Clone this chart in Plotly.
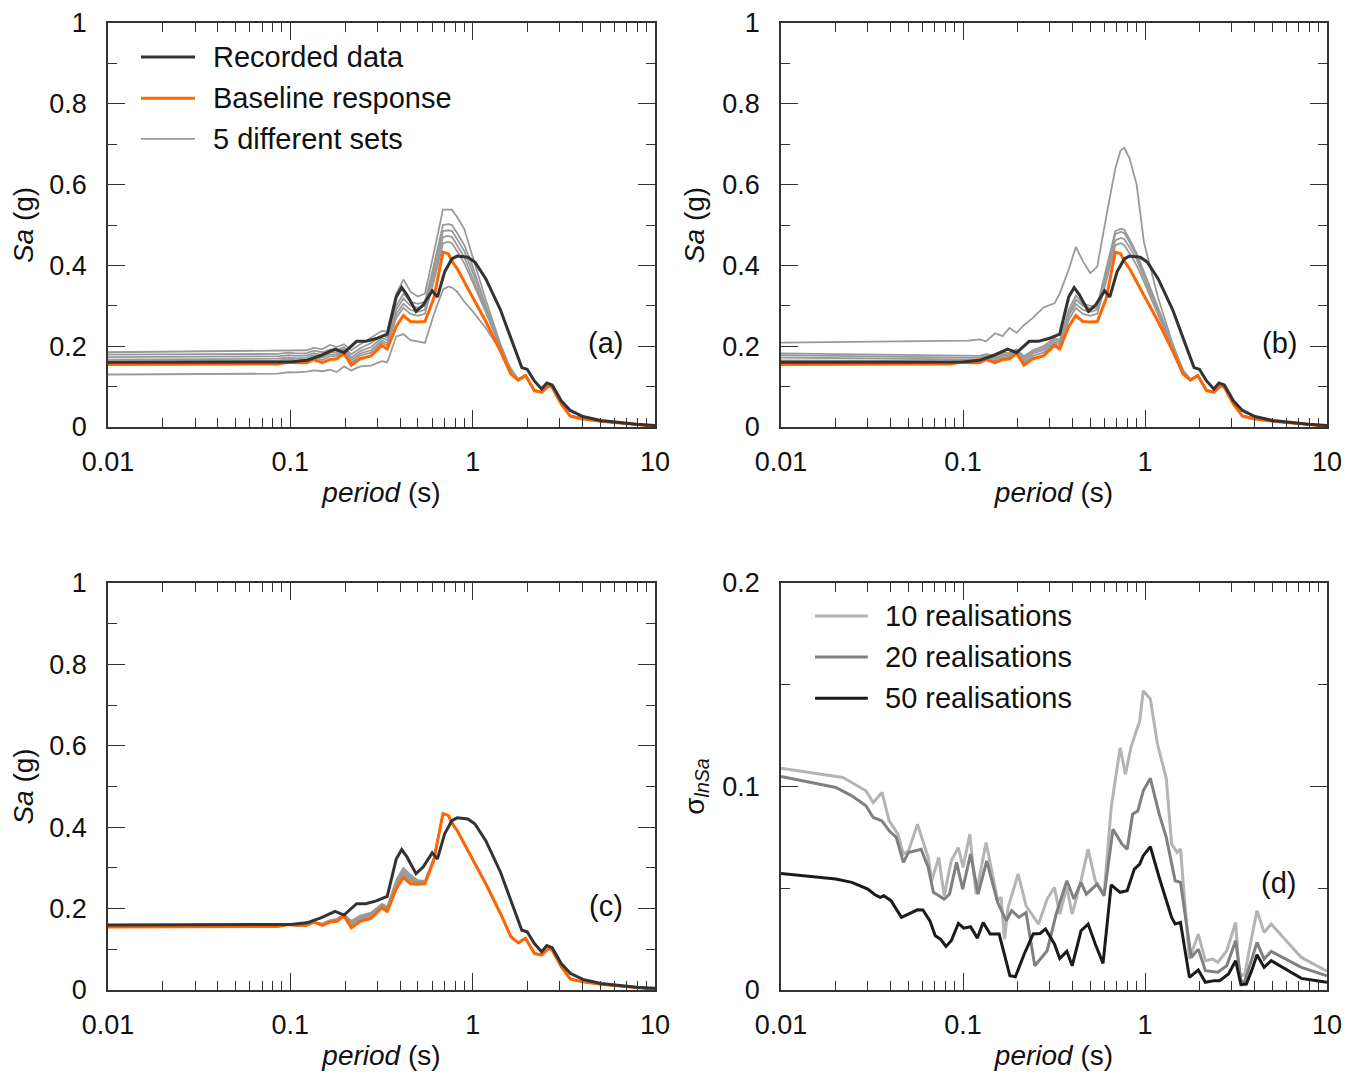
import plotly.graph_objects as go

# ---------------- data ----------------
# Recorded data (same in panels a, b, c)
rec_period = [0.01, 0.05, 0.1, 0.123, 0.147, 0.176, 0.197, 0.231, 0.259, 0.296,
              0.340, 0.381, 0.408, 0.436, 0.489, 0.535, 0.600, 0.641, 0.702, 0.769,
              0.822, 0.942, 1.03, 1.18, 1.42, 1.62, 1.86, 1.99, 2.18, 2.39,
              2.55, 2.73, 3.06, 3.43, 4.02, 5.04, 6.33, 7.94, 10]
rec_sa = [0.160, 0.160, 0.161, 0.165, 0.177, 0.193, 0.184, 0.212, 0.212, 0.219,
          0.230, 0.322, 0.345, 0.327, 0.286, 0.302, 0.337, 0.322, 0.384, 0.416,
          0.423, 0.420, 0.408, 0.367, 0.290, 0.220, 0.147, 0.143, 0.114, 0.094,
          0.109, 0.104, 0.065, 0.041, 0.026, 0.016, 0.011, 0.007, 0.004]

# period grid of the simulated spectra
sim_period = [0.01, 0.085, 0.098, 0.107, 0.123, 0.134, 0.150, 0.165, 0.180, 0.197,
              0.216, 0.242, 0.277, 0.318, 0.340, 0.381, 0.417, 0.456, 0.50, 0.547,
              0.612, 0.687, 0.735, 0.77, 0.822, 0.90, 0.986, 1.18, 1.42, 1.62,
              1.78, 1.95, 2.18, 2.39, 2.61, 2.73, 3.06, 3.43, 4.02, 5.04,
              7.94, 10]
baseline_sa = [0.155, 0.156, 0.161, 0.159, 0.159, 0.167, 0.159, 0.167, 0.169, 0.182,
               0.153, 0.169, 0.176, 0.202, 0.193, 0.249, 0.276, 0.261, 0.260, 0.261,
               0.318, 0.433, 0.429, 0.410, 0.392, 0.360, 0.327, 0.261, 0.188, 0.131,
               0.116, 0.127, 0.090, 0.086, 0.102, 0.098, 0.057, 0.027, 0.020, 0.014,
               0.006, 0.002]

# panel (a): different sets
sets_a = [
    [0.185, 0.188, 0.190, 0.189, 0.190, 0.196, 0.193, 0.203, 0.198, 0.205,
     0.190, 0.205, 0.222, 0.238, 0.236, 0.330, 0.365, 0.335, 0.323, 0.330,
     0.430, 0.538, 0.538, 0.538, 0.520, 0.490, 0.430, 0.315, 0.205, 0.140,
     0.118, 0.129, 0.091, 0.087, 0.103, 0.099, 0.058, 0.028, 0.021, 0.014,
     0.006, 0.002],
    [0.179, 0.181, 0.184, 0.182, 0.183, 0.189, 0.185, 0.192, 0.190, 0.198,
     0.180, 0.195, 0.208, 0.226, 0.222, 0.300, 0.330, 0.310, 0.305, 0.310,
     0.400, 0.500, 0.502, 0.500, 0.480, 0.450, 0.405, 0.300, 0.203, 0.139,
     0.118, 0.129, 0.091, 0.087, 0.103, 0.099, 0.058, 0.028, 0.021, 0.014,
     0.006, 0.002],
    [0.173, 0.175, 0.178, 0.176, 0.177, 0.183, 0.178, 0.186, 0.185, 0.194,
     0.172, 0.188, 0.198, 0.220, 0.215, 0.290, 0.318, 0.300, 0.295, 0.300,
     0.390, 0.485, 0.487, 0.485, 0.465, 0.435, 0.390, 0.295, 0.200, 0.138,
     0.118, 0.128, 0.091, 0.087, 0.103, 0.099, 0.058, 0.028, 0.021, 0.014,
     0.006, 0.002],
    [0.167, 0.169, 0.172, 0.170, 0.171, 0.178, 0.172, 0.180, 0.180, 0.190,
     0.166, 0.182, 0.190, 0.214, 0.208, 0.280, 0.305, 0.290, 0.285, 0.290,
     0.375, 0.470, 0.473, 0.470, 0.450, 0.420, 0.375, 0.290, 0.198, 0.137,
     0.117, 0.128, 0.091, 0.087, 0.103, 0.099, 0.058, 0.028, 0.021, 0.014,
     0.006, 0.002],
    [0.162, 0.164, 0.167, 0.165, 0.166, 0.173, 0.166, 0.175, 0.176, 0.187,
     0.160, 0.177, 0.184, 0.209, 0.202, 0.270, 0.295, 0.280, 0.275, 0.280,
     0.360, 0.455, 0.458, 0.455, 0.435, 0.405, 0.365, 0.285, 0.195, 0.135,
     0.117, 0.128, 0.091, 0.087, 0.103, 0.099, 0.058, 0.028, 0.021, 0.014,
     0.006, 0.002],
    [0.130, 0.132, 0.136, 0.135, 0.137, 0.140, 0.138, 0.142, 0.136, 0.150,
     0.140, 0.150, 0.152, 0.163, 0.160, 0.224, 0.230, 0.215, 0.212, 0.208,
     0.278, 0.340, 0.348, 0.345, 0.335, 0.310, 0.290, 0.245, 0.190, 0.145,
     0.118, 0.128, 0.091, 0.087, 0.103, 0.099, 0.058, 0.028, 0.021, 0.014,
     0.006, 0.002],
]

# panel (b): different sets
sets_b = [
    [0.209, 0.212, 0.213, 0.214, 0.217, 0.212, 0.232, 0.225, 0.245, 0.233,
     0.252, 0.270, 0.296, 0.306, 0.330, 0.390, 0.446, 0.410, 0.381, 0.397,
     0.520, 0.640, 0.685, 0.691, 0.665, 0.600, 0.458, 0.320, 0.205, 0.140,
     0.118, 0.129, 0.091, 0.087, 0.103, 0.099, 0.058, 0.028, 0.021, 0.014,
     0.006, 0.002],
    [0.182, 0.176, 0.175, 0.175, 0.176, 0.180, 0.177, 0.184, 0.183, 0.192,
     0.175, 0.190, 0.200, 0.220, 0.215, 0.290, 0.325, 0.305, 0.300, 0.300,
     0.390, 0.485, 0.491, 0.488, 0.465, 0.430, 0.385, 0.295, 0.200, 0.138,
     0.118, 0.128, 0.091, 0.087, 0.103, 0.099, 0.058, 0.028, 0.021, 0.014,
     0.006, 0.002],
    [0.178, 0.171, 0.170, 0.170, 0.171, 0.176, 0.172, 0.180, 0.180, 0.190,
     0.170, 0.186, 0.195, 0.215, 0.210, 0.280, 0.315, 0.300, 0.293, 0.295,
     0.385, 0.478, 0.483, 0.480, 0.458, 0.425, 0.380, 0.290, 0.198, 0.137,
     0.117, 0.128, 0.091, 0.087, 0.103, 0.099, 0.058, 0.028, 0.021, 0.014,
     0.006, 0.002],
    [0.172, 0.167, 0.166, 0.166, 0.167, 0.173, 0.168, 0.176, 0.177, 0.188,
     0.165, 0.182, 0.190, 0.210, 0.205, 0.275, 0.305, 0.290, 0.285, 0.290,
     0.375, 0.462, 0.468, 0.465, 0.445, 0.415, 0.370, 0.285, 0.195, 0.135,
     0.117, 0.128, 0.091, 0.087, 0.103, 0.099, 0.058, 0.028, 0.021, 0.014,
     0.006, 0.002],
    [0.165, 0.163, 0.165, 0.163, 0.164, 0.171, 0.164, 0.172, 0.174, 0.186,
     0.160, 0.176, 0.184, 0.206, 0.200, 0.265, 0.295, 0.280, 0.275, 0.280,
     0.360, 0.450, 0.455, 0.450, 0.430, 0.400, 0.360, 0.280, 0.193, 0.134,
     0.117, 0.128, 0.091, 0.087, 0.103, 0.099, 0.058, 0.028, 0.021, 0.014,
     0.006, 0.002],
]

# panel (c): different sets
sets_c = [
    [0.155, 0.156, 0.161, 0.159, 0.159, 0.167, 0.163, 0.172, 0.175, 0.186,
     0.170, 0.183, 0.190, 0.212, 0.205, 0.270, 0.300, 0.283, 0.270, 0.268,
     0.325, 0.433, 0.429, 0.410, 0.392, 0.360, 0.327, 0.261, 0.188, 0.131,
     0.116, 0.127, 0.090, 0.086, 0.102, 0.098, 0.057, 0.027, 0.020, 0.014,
     0.006, 0.002],
    [0.155, 0.156, 0.161, 0.159, 0.159, 0.167, 0.162, 0.170, 0.173, 0.185,
     0.166, 0.180, 0.187, 0.210, 0.202, 0.265, 0.295, 0.278, 0.267, 0.266,
     0.322, 0.433, 0.429, 0.410, 0.392, 0.360, 0.327, 0.261, 0.188, 0.131,
     0.116, 0.127, 0.090, 0.086, 0.102, 0.098, 0.057, 0.027, 0.020, 0.014,
     0.006, 0.002],
    [0.155, 0.156, 0.161, 0.159, 0.159, 0.167, 0.161, 0.169, 0.172, 0.184,
     0.163, 0.177, 0.184, 0.207, 0.199, 0.260, 0.290, 0.274, 0.265, 0.265,
     0.320, 0.433, 0.429, 0.410, 0.392, 0.360, 0.327, 0.261, 0.188, 0.131,
     0.116, 0.127, 0.090, 0.086, 0.102, 0.098, 0.057, 0.027, 0.020, 0.014,
     0.006, 0.002],
    [0.155, 0.156, 0.161, 0.159, 0.159, 0.167, 0.160, 0.168, 0.171, 0.183,
     0.160, 0.175, 0.181, 0.205, 0.197, 0.257, 0.285, 0.270, 0.263, 0.263,
     0.320, 0.433, 0.429, 0.410, 0.392, 0.360, 0.327, 0.261, 0.188, 0.131,
     0.116, 0.127, 0.090, 0.086, 0.102, 0.098, 0.057, 0.027, 0.020, 0.014,
     0.006, 0.002],
    [0.155, 0.156, 0.161, 0.159, 0.159, 0.167, 0.160, 0.168, 0.170, 0.183,
     0.157, 0.172, 0.179, 0.204, 0.195, 0.253, 0.280, 0.266, 0.262, 0.262,
     0.319, 0.433, 0.429, 0.410, 0.392, 0.360, 0.327, 0.261, 0.188, 0.131,
     0.116, 0.127, 0.090, 0.086, 0.102, 0.098, 0.057, 0.027, 0.020, 0.014,
     0.006, 0.002],
]

# panel (d): standard deviation of ln Sa
p10 = [0.01, 0.0219, 0.0293, 0.0321, 0.0359, 0.0393, 0.0439, 0.0470, 0.0502, 0.0562,
       0.0644, 0.0673, 0.0736, 0.0788, 0.0862, 0.0943, 0.1, 0.109, 0.118, 0.134,
       0.155, 0.162, 0.169, 0.177, 0.201, 0.222, 0.260, 0.290, 0.318, 0.340,
       0.372, 0.398, 0.445, 0.487, 0.533, 0.596, 0.652, 0.730, 0.781, 0.836,
       0.894, 0.935, 0.978, 1.070, 1.170, 1.309, 1.400, 1.499, 1.567, 1.754,
       1.963, 2.148, 2.350, 2.513, 2.812, 3.148, 3.296, 3.524, 3.855, 4.125,
       4.511, 4.935, 7.229, 10]
s10 = [0.109, 0.1044, 0.0979, 0.0921, 0.0971, 0.0831, 0.0766, 0.0668, 0.0684, 0.0815,
       0.0651, 0.0537, 0.0651, 0.0463, 0.0635, 0.070, 0.0602, 0.0766, 0.0471, 0.0725,
       0.0439, 0.0455, 0.025, 0.0406, 0.0570, 0.0414, 0.0324, 0.0447, 0.0504, 0.0373,
       0.0504, 0.0373, 0.0537, 0.0692, 0.0537, 0.0471, 0.0897, 0.119, 0.106, 0.119,
       0.127, 0.132, 0.147, 0.143, 0.121, 0.104, 0.0717, 0.0676, 0.0692, 0.0152,
       0.0275, 0.0144, 0.0152, 0.0136, 0.0193, 0.0332, 0.0079, 0.0070, 0.0259, 0.0390,
       0.0283, 0.0324, 0.0160, 0.0092]

p20 = [0.01, 0.0200, 0.0245, 0.0293, 0.0321, 0.0359, 0.0393, 0.0430, 0.0470, 0.0502,
       0.0589, 0.0644, 0.0688, 0.0788, 0.0843, 0.0922, 0.0996, 0.110, 0.121, 0.135,
       0.155, 0.173, 0.185, 0.203, 0.222, 0.248, 0.290, 0.325, 0.372, 0.407,
       0.445, 0.476, 0.545, 0.596, 0.667, 0.747, 0.798, 0.855, 0.914, 0.978,
       1.070, 1.197, 1.309, 1.465, 1.567, 1.795, 1.963, 2.148, 2.513, 2.812,
       3.148, 3.367, 3.524, 4.125, 4.511, 4.935, 7.229, 10]
s20 = [0.1049, 0.0995, 0.0954, 0.0905, 0.0848, 0.0831, 0.0782, 0.075, 0.0627, 0.0676,
       0.0692, 0.0602, 0.048, 0.0447, 0.0471, 0.0627, 0.0496, 0.0668, 0.0471, 0.0635,
       0.043, 0.034, 0.039, 0.0357, 0.0381, 0.0119, 0.0193, 0.0373, 0.0537, 0.0447,
       0.0529, 0.0471, 0.052, 0.0463, 0.079, 0.0717, 0.0692, 0.0864, 0.0881, 0.0979,
       0.104, 0.0864, 0.075, 0.0537, 0.0529, 0.016, 0.0201, 0.0095, 0.0087, 0.0119,
       0.0242, 0.0046, 0.0038, 0.0234, 0.0152, 0.019, 0.0111, 0.007]

p50 = [0.01, 0.0200, 0.0245, 0.0300, 0.0328, 0.0351, 0.0367, 0.0402, 0.0459, 0.0502,
       0.0562, 0.0602, 0.0658, 0.0704, 0.0753, 0.0806, 0.0862, 0.0943, 0.101, 0.110,
       0.120, 0.129, 0.141, 0.158, 0.168, 0.181, 0.194, 0.217, 0.243, 0.265,
       0.284, 0.318, 0.340, 0.372, 0.398, 0.445, 0.487, 0.533, 0.588, 0.652,
       0.730, 0.798, 0.874, 0.935, 0.978, 1.070, 1.197, 1.309, 1.400, 1.465,
       1.567, 1.754, 1.963, 2.148, 2.404, 2.570, 2.877, 3.148, 3.367, 3.606,
       3.855, 4.125, 4.511, 4.935, 7.229, 10]
s50 = [0.0573, 0.0545, 0.0529, 0.0496, 0.0468, 0.0455, 0.0463, 0.0439, 0.0357, 0.0373,
       0.0394, 0.0393, 0.034, 0.0267, 0.025, 0.0214, 0.0242, 0.0327, 0.0304, 0.0311,
       0.0255, 0.0332, 0.0275, 0.0275, 0.0177, 0.007, 0.0065, 0.0177, 0.0275, 0.0278,
       0.03, 0.0226, 0.0155, 0.019, 0.0119, 0.0291, 0.0324, 0.0226, 0.0131, 0.0517,
       0.048, 0.0488, 0.0594, 0.0619, 0.066, 0.0704, 0.0553, 0.0439, 0.0357, 0.0324,
       0.0332, 0.0062, 0.0098, 0.0038, 0.0046, 0.0046, 0.0079, 0.0144, 0.0026, 0.0029,
       0.0095, 0.0173, 0.0111, 0.0144, 0.0057, 0.0038]

x_tickvals = [0.01, 0.1, 1, 10]
x_ticktext = ["0.01", "0.1", "1", "10"]
x_minor = [0.02, 0.03, 0.04, 0.05, 0.06, 0.07, 0.08, 0.09,
           0.2, 0.3, 0.4, 0.5, 0.6, 0.7, 0.8, 0.9,
           2, 3, 4, 5, 6, 7, 8, 9]
panel_labels = ["(a)", "(b)", "(c)", "(d)"]
legend_a = ["Recorded data", "Baseline response", "5 different sets"]
legend_d = ["10 realisations", "20 realisations", "50 realisations"]

# ---------------- styles ----------------
FONT = "Liberation Sans, Arial, sans-serif"
C_REC = "#333333"
C_BASE = "#FF6600"
C_SET = "#9A9A9A"
C_D = ["#B4B4B4", "#808080", "#1A1A1A"]
AX_COL = "#333333"
TXT = "#111111"
FS_TICK = 27
FS_TITLE = 28
FS_LEG = 29

fig = go.Figure()

def add_sa_panel(k, sets):
    xa = "x" if k == 1 else f"x{k}"
    ya = "y" if k == 1 else f"y{k}"
    for s in sets:
        fig.add_trace(go.Scatter(x=sim_period, y=s, mode="lines", xaxis=xa, yaxis=ya,
                                 line=dict(color=C_SET, width=1.8), showlegend=False,
                                 hoverinfo="skip"))
    fig.add_trace(go.Scatter(x=sim_period, y=baseline_sa, mode="lines", xaxis=xa, yaxis=ya,
                             line=dict(color=C_BASE, width=3), showlegend=False))
    fig.add_trace(go.Scatter(x=rec_period, y=rec_sa, mode="lines", xaxis=xa, yaxis=ya,
                             line=dict(color=C_REC, width=3), showlegend=False))

add_sa_panel(1, sets_a)
add_sa_panel(2, sets_b)
add_sa_panel(3, sets_c)

for p, s, c in zip([p10, p20, p50], [s10, s20, s50], C_D):
    fig.add_trace(go.Scatter(x=p, y=s, mode="lines", xaxis="x4", yaxis="y4",
                             line=dict(color=c, width=3), showlegend=False))

# ---------------- layout ----------------
# the page body adds an 8 px margin, so the figure is 16 px smaller
W, H = 1356, 1070
ML, MR, MT, MB = 100, 37, 15, 88
pw = W - ML - MR
ph = H - MT - MB
top_h = 419 - MT          # top panels end 419 px from the figure top
dom_x = [[0, 547 / pw], [673 / pw, 1]]
dom_y = [[(ph - top_h) / ph, 1], [0, 407 / ph]]

tick_font = dict(family=FONT, size=FS_TICK, color=TXT)
title_font = dict(family=FONT, size=FS_TITLE, color=TXT)

def xaxis(dx, anchor):
    return dict(domain=dx, anchor=anchor, type="log", range=[-2, 1],
                tickvals=x_tickvals, ticktext=x_ticktext,
                ticks="inside", ticklen=17, tickwidth=1.2, tickcolor=AX_COL,
                showline=True, linecolor=AX_COL, linewidth=1.5, mirror="ticks",
                showgrid=False, zeroline=False, tickfont=tick_font,
                ticklabelstandoff=10, automargin=False, ticklabeloverflow="allow",
                minor=dict(tickvals=x_minor, ticks="inside", ticklen=9,
                           tickwidth=1, tickcolor=AX_COL, showgrid=False),
                title=dict(text="<i>period</i> (s)", font=title_font, standoff=6))

def yaxis(dy, anchor, rng, dtick, minor_dtick, title):
    return dict(domain=dy, anchor=anchor, range=rng, tick0=0, dtick=dtick,
                ticks="inside", ticklen=17, tickwidth=1.2, tickcolor=AX_COL,
                showline=True, linecolor=AX_COL, linewidth=1.5, mirror="ticks",
                showgrid=False, zeroline=False, tickfont=tick_font,
                ticklabelstandoff=14, automargin=False, ticklabeloverflow="allow",
                minor=dict(dtick=minor_dtick, ticks="inside", ticklen=9,
                           tickwidth=1, tickcolor=AX_COL, showgrid=False),
                title=dict(text=title, font=title_font, standoff=10))

sa_title = "<i>Sa</i> (g)"
fig.update_layout(
    width=W, height=H, autosize=False,
    margin=dict(l=ML, r=MR, t=MT, b=MB, pad=0),
    paper_bgcolor="white", plot_bgcolor="white",
    font=dict(family=FONT, size=FS_TICK, color=TXT),
    xaxis=xaxis(dom_x[0], "y"),
    yaxis=yaxis(dom_y[0], "x", [0, 1], 0.2, 0.1, sa_title),
    xaxis2=xaxis(dom_x[1], "y2"),
    yaxis2=yaxis(dom_y[0], "x2", [0, 1], 0.2, 0.1, sa_title),
    xaxis3=xaxis(dom_x[0], "y3"),
    yaxis3=yaxis(dom_y[1], "x3", [0, 1], 0.2, 0.1, sa_title),
    xaxis4=xaxis(dom_x[1], "y4"),
    yaxis4=yaxis(dom_y[1], "x4", [0, 0.2], 0.1, 0.05,
                 "σ<sub><i>lnSa</i></sub>"),
)

annotations = []
shapes = []
# panel labels
label_pos = [("x", "y", 0.945, 0.208), ("x2", "y2", 0.949, 0.208),
             ("x3", "y3", 0.945, 0.206), ("x4", "y4", 0.947, 0.263)]
for txt, (xr, yr, px, py) in zip(panel_labels, label_pos):
    annotations.append(dict(text=txt, xref=f"{xr} domain", yref=f"{yr} domain",
                            x=px, y=py, xanchor="right", yanchor="middle",
                            showarrow=False, font=dict(family=FONT, size=FS_LEG, color=TXT)))

# manual legends
leg_a_style = [(C_REC, 3), (C_BASE, 3), (C_SET, 1.8)]
leg_a_y = [0.916, 0.814, 0.713]
for txt, (col, w), yy in zip(legend_a, leg_a_style, leg_a_y):
    shapes.append(dict(type="line", xref="x domain", yref="y domain",
                       x0=0.0603, x1=0.159, y0=yy, y1=yy, line=dict(color=col, width=w)))
    annotations.append(dict(text=txt, xref="x domain", yref="y domain", x=0.188, y=yy,
                            xanchor="left", yanchor="middle", showarrow=False,
                            font=dict(family=FONT, size=FS_LEG, color=TXT)))
leg_d_y = [0.919, 0.818, 0.717]
for txt, col, yy in zip(legend_d, C_D, leg_d_y):
    shapes.append(dict(type="line", xref="x4 domain", yref="y4 domain",
                       x0=0.0623, x1=0.159, y0=yy, y1=yy, line=dict(color=col, width=3)))
    annotations.append(dict(text=txt, xref="x4 domain", yref="y4 domain", x=0.186, y=yy,
                            xanchor="left", yanchor="middle", showarrow=False,
                            font=dict(family=FONT, size=FS_LEG, color=TXT)))

fig.update_layout(annotations=annotations, shapes=shapes)

fig.write_html("out.html")
